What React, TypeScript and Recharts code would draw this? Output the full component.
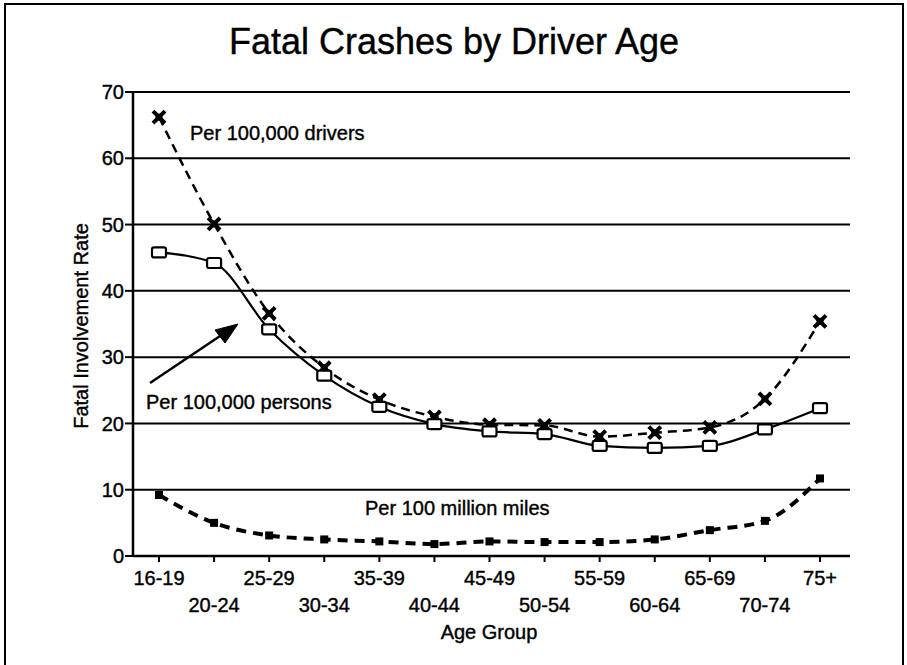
import { CartesianGrid, Customized, Line, LineChart, XAxis, YAxis } from "recharts";

const ageGroups = [
  "16-19", "20-24", "25-29", "30-34", "35-39", "40-44", "45-49",
  "50-54", "55-59", "60-64", "65-69", "70-74", "75+",
];
const perDrivers = [66.2, 50.1, 36.6, 28.4, 23.6, 21.0, 19.8, 19.7, 18.0, 18.6, 19.4, 23.7, 35.4];
const perPersons = [45.8, 44.2, 34.2, 27.2, 22.5, 19.9, 18.8, 18.4, 16.6, 16.3, 16.6, 19.1, 22.3];
const perMiles = [9.2, 5.0, 3.1, 2.5, 2.2, 1.8, 2.2, 2.1, 2.1, 2.5, 3.9, 5.3, 11.7];
const yTicks = [0, 10, 20, 30, 40, 50, 60, 70];

const data = ageGroups.map((age, i) => ({
  age,
  drivers: perDrivers[i],
  persons: perPersons[i],
  miles: perMiles[i],
}));

const FONT = "'Liberation Sans', Arial, Helvetica, sans-serif";
// scanned original has heavy text, a thin outline darkens ours a bit
const INK = { stroke: "#000", strokeWidth: 0.4 };

function AgeTick(props: any) {
  const { x, y, payload, index } = props;
  const i = payload?.index ?? index ?? 0;
  return (
    <text x={x} y={y + (i % 2) * 27} dy="0.71em" textAnchor="middle" fontSize={20} fontFamily={FONT} fill="#000" {...INK}>
      {payload.value}
    </text>
  );
}

function StarDot(props: any) {
  const { cx, cy } = props;
  if (cx == null || cy == null) return null;
  return (
    <g>
      <path d={`M${cx - 6},${cy - 6}L${cx + 6},${cy + 6}M${cx + 6},${cy - 6}L${cx - 6},${cy + 6}`} stroke="#000" strokeWidth={4} />
      <rect x={cx - 3.5} y={cy - 3.5} width={7} height={7} fill="#000" />
    </g>
  );
}

function SquareDot(props: any) {
  const { cx, cy } = props;
  if (cx == null || cy == null) return null;
  return <rect x={cx - 7} y={cy - 5} width={14} height={10} rx={2} fill="#fff" stroke="#000" strokeWidth={2.2} />;
}

function SmallDot(props: any) {
  const { cx, cy } = props;
  if (cx == null || cy == null) return null;
  return <rect x={cx - 4} y={cy - 4} width={8} height={8} fill="#000" />;
}

function Annotations() {
  return (
    <g fontFamily={FONT} fill="#000">
      <path d="M5,665V4H903V665" fill="none" stroke="#000" strokeWidth={2} />
      <g {...INK}>
        <text x={454} y={54} textAnchor="middle" fontSize={36}>Fatal Crashes by Driver Age</text>
        <text x={0} y={0} transform="translate(88,326) rotate(-90)" textAnchor="middle" fontSize={20}>
          Fatal Involvement Rate
        </text>
        <text x={489} y={639} textAnchor="middle" fontSize={20}>Age Group</text>
        <text x={190} y={140} fontSize={20}>Per 100,000 drivers</text>
        <text x={146} y={409} fontSize={20}>Per 100,000 persons</text>
        <text x={365} y={515} fontSize={20}>Per 100 million miles</text>
      </g>
      <line x1={150} y1={383} x2={226} y2={332} stroke="#000" strokeWidth={2.5} />
      <path d="M238,324L215,330L225,343Z" fill="#000" stroke="#000" strokeWidth={1} />
    </g>
  );
}

export default function App() {
  return (
    <div style={{ position: "absolute", left: 0, top: 0, width: 907, height: 665, background: "#fff" }}>
      <LineChart width={907} height={665} data={data} margin={{ top: 92, right: 57, bottom: 24, left: 73 }}>
        <CartesianGrid vertical={false} stroke="#000" strokeWidth={2} />
        <XAxis
          dataKey="age"
          interval={0}
          height={85}
          padding={{ left: 26, right: 30 }}
          tick={<AgeTick />}
          tickSize={6}
          tickMargin={9}
          axisLine={{ stroke: "#000", strokeWidth: 2.5 }}
          tickLine={{ stroke: "#000", strokeWidth: 2 }}
        />
        <YAxis
          width={60}
          domain={[0, 70]}
          ticks={yTicks}
          tickSize={8}
          tickMargin={1}
          axisLine={{ stroke: "#000", strokeWidth: 2.5 }}
          tickLine={{ stroke: "#000", strokeWidth: 2 }}
          tick={{ fill: "#000", fontSize: 20, fontFamily: FONT, ...INK }}
        />
        <YAxis
          yAxisId="right"
          orientation="right"
          width={0}
          domain={[0, 70]}
          tick={false}
          tickLine={false}
          axisLine={{ stroke: "#000", strokeWidth: 2.5 }}
        />
        <Line
          type="monotone"
          dataKey="drivers"
          stroke="#000"
          strokeWidth={2.5}
          strokeDasharray="9 6"
          dot={<StarDot />}
          isAnimationActive={false}
        />
        <Line
          type="monotone"
          dataKey="persons"
          stroke="#000"
          strokeWidth={2.2}
          dot={<SquareDot />}
          isAnimationActive={false}
        />
        <Line
          type="monotone"
          dataKey="miles"
          stroke="#000"
          strokeWidth={4}
          strokeDasharray="10 7"
          dot={<SmallDot />}
          isAnimationActive={false}
        />
        <Customized component={<Annotations />} />
      </LineChart>
    </div>
  );
}
